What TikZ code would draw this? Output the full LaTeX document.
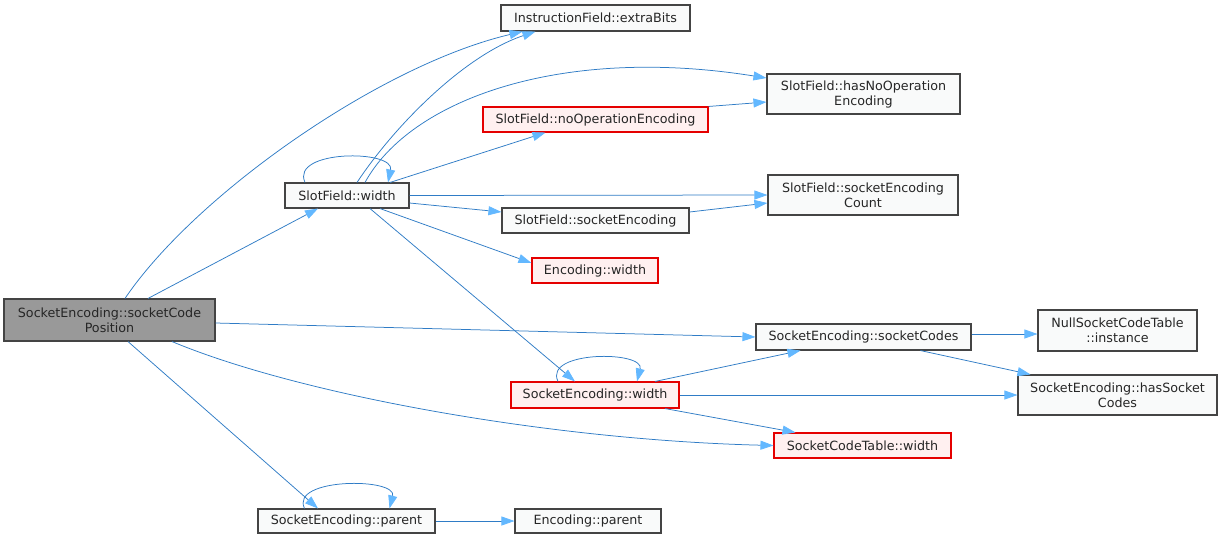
\documentclass[tikz,border=0pt]{standalone}
\usepackage{fontspec}
\setmainfont{DejaVu Sans}
\usetikzlibrary{arrows.meta}
\definecolor{edgeblue}{HTML}{2F7CC6}
\definecolor{headblue}{HTML}{63B8FF}
\definecolor{boxfill}{HTML}{F9FAFA}
\definecolor{boxline}{HTML}{444444}
\definecolor{redfill}{HTML}{FFF0F0}
\definecolor{rootfill}{HTML}{999999}
\tikzset{
  box/.style={draw=boxline, fill=boxfill, line width=1.1pt, inner sep=0pt, align=center,
    font=\fontsize{12.7}{15}\selectfont, text=black!85},
  redbox/.style={box, draw=red!90!black, fill=redfill},
  rootbox/.style={box, fill=rootfill},
  edge/.style={draw=edgeblue, line width=0.75pt,
    -{Triangle[length=13pt,width=9pt,fill=headblue,color=headblue]}},
}
\begin{document}
\begin{tikzpicture}[x=1pt,y=-1pt]
\useasboundingbox (0,0) rectangle (1223,539);
\fill[white] (0,0) rectangle (1223,539);
% nodes
\node[rootbox, minimum width=211pt, minimum height=42pt] (root) at (109.5,320) {SocketEncoding::socketCode\\Position};
\node[box, minimum width=124pt, minimum height=25pt] (sfw) at (347,195.5) {SlotField::width};
\node[box, minimum width=189pt, minimum height=26pt] (ifeb) at (595.5,18) {InstructionField::extraBits};
\node[box, minimum width=193pt, minimum height=40pt] (hnoe) at (863.5,94) {SlotField::hasNoOperation\\Encoding};
\node[redbox, minimum width=225pt, minimum height=25pt] (noe) at (595.5,119.5) {SlotField::noOperationEncoding};
\node[box, minimum width=190pt, minimum height=40pt] (sec) at (863,195) {SlotField::socketEncoding\\Count};
\node[box, minimum width=187pt, minimum height=25pt] (se) at (595.5,220.5) {SlotField::socketEncoding};
\node[redbox, minimum width=126pt, minimum height=25pt] (ew) at (595,270.5) {Encoding::width};
\node[box, minimum width=215pt, minimum height=26pt] (sc) at (863.5,337) {SocketEncoding::socketCodes};
\node[box, minimum width=159pt, minimum height=41pt] (nsct) at (1117.5,330.5) {NullSocketCodeTable\\::instance};
\node[box, minimum width=199pt, minimum height=40pt] (hsc) at (1117.5,395) {SocketEncoding::hasSocket\\Codes};
\node[redbox, minimum width=168pt, minimum height=26pt] (sew) at (595,395) {SocketEncoding::width};
\node[redbox, minimum width=177pt, minimum height=25pt] (sctw) at (862.5,445.5) {SocketCodeTable::width};
\node[box, minimum width=177pt, minimum height=24pt] (sep) at (346.5,521) {SocketEncoding::parent};
\node[box, minimum width=146pt, minimum height=24pt] (ep) at (588,521) {Encoding::parent};
% edges from root
\draw[edge] ([xshift=38.5pt]root.north) -- ([xshift=-29pt]sfw.south);
\draw[edge] ([xshift=15.5pt]root.north) .. controls (195,195) and (380,65) .. ([xshift=-73pt]ifeb.south);
\draw[edge] ([yshift=-3pt]root.east) -- (sc.west);
\draw[edge] ([xshift=62.5pt]root.south) .. controls (300,395) and (550,440) .. (sctw.west);
\draw[edge] ([xshift=18.5pt]root.south) -- ([xshift=-28.5pt]sep.north);
% edges from SlotField::width
\draw[edge] ([xshift=-42pt]sfw.north) .. controls +(-15pt,33pt) and +(7pt,33pt) .. ([xshift=41pt]sfw.north);
\draw[edge] ([xshift=10pt]sfw.north) .. controls (395,125) and (465,55) .. ([xshift=-60pt]ifeb.south);
\draw[edge] ([xshift=18pt]sfw.north) .. controls (410,100) and (560,45) .. ([yshift=16pt]hnoe.west);
\draw[edge] ([xshift=43pt]sfw.north) -- ([xshift=-50pt]noe.south);
\draw[edge] (sfw.east) -- (sec.west);
\draw[edge] ([yshift=-7.5pt]sfw.east) -- ([yshift=8.5pt]se.west);
\draw[edge] ([xshift=33pt]sfw.south) -- ([yshift=7.5pt]ew.west);
\draw[edge] ([xshift=23pt]sfw.south) -- ([xshift=-20pt]sew.north);
% other edges
\draw[edge] (noe.north east) -- ([yshift=-8pt]hnoe.west);
\draw[edge] ([yshift=8.5pt]se.east) -- ([yshift=-8pt]sec.west);
\draw[edge] ([xshift=-37pt]sew.north) .. controls +(-15pt,31pt) and +(8pt,31pt) .. ([xshift=42pt]sew.north);
\draw[edge] ([xshift=60pt]sew.north) -- ([xshift=-63pt]sc.south);
\draw[edge] (sew.east) -- (hsc.west);
\draw[edge] ([xshift=70pt]sew.south) -- ([xshift=-67pt]sctw.north);
\draw[edge] ([yshift=3pt]sc.east) -- ([yshift=-3.5pt]nsct.west);
\draw[edge] ([xshift=57pt]sc.south) -- ([xshift=-87pt]hsc.north);
\draw[edge] ([xshift=-42pt]sep.north) .. controls +(-15pt,31pt) and +(8pt,31pt) .. ([xshift=43pt]sep.north);
\draw[edge] (sep.east) -- (ep.west);
\end{tikzpicture}
\end{document}
